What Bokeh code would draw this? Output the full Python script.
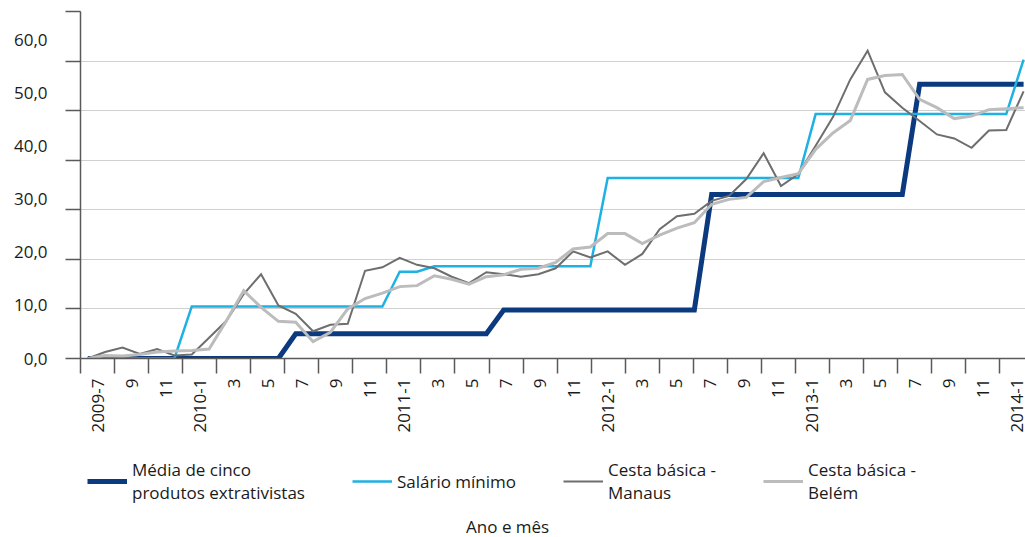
import math
from bokeh.plotting import figure
from bokeh.layouts import column
from bokeh.models import Range1d, LinearAxis, FixedTicker, Legend, LegendItem, Label
from bokeh.embed import file_html
from bokeh.resources import INLINE

# ---- data -------------------------------------------------------------
years_months = [(2009, m) for m in range(7, 13)] + \
    [(y, m) for y in range(2010, 2014) for m in range(1, 13)] + [(2014, 1)]
months = [f"{y}-{m}" for y, m in years_months]          # 55 months, 2009-7 .. 2014-1

media = [0.0] * 12 + [5.0] * 12 + [9.8] * 12 + [33.1] * 12 + [55.3] * 7
salario = [0.0] * 6 + [10.5] * 12 + [17.5] * 2 + [18.6] * 10 + [36.4] * 12 + [49.3] * 12 + [60.3]
manaus = [0.0, 1.3, 2.2, 0.9, 1.9, 0.6, 0.8, 4.2, 7.6, 13.0, 17.0, 10.7, 9.0, 5.5, 6.8, 7.0,
          17.7, 18.4, 20.3, 18.9, 18.2, 16.5, 15.2, 17.4, 17.0, 16.5, 17.0, 18.2, 21.6, 20.4,
          21.6, 18.9, 21.1, 26.1, 28.7, 29.2, 31.8, 32.8, 36.2, 41.4, 34.8, 37.2, 42.9, 48.7,
          56.3, 62.1, 53.7, 50.6, 47.9, 45.2, 44.4, 42.5, 46.0, 46.1, 53.9]
belem = [0.0, 0.6, 0.5, 0.8, 1.3, 1.5, 1.6, 1.9, 7.6, 13.7, 10.3, 7.5, 7.3, 3.4, 5.3, 10.0,
         12.1, 13.2, 14.5, 14.7, 16.7, 16.0, 15.0, 16.5, 16.9, 18.0, 18.2, 19.4, 22.1, 22.5,
         25.2, 25.2, 23.2, 24.9, 26.3, 27.4, 31.1, 32.1, 32.5, 35.7, 36.5, 37.3, 42.2, 45.5,
         48.0, 56.3, 57.1, 57.3, 52.3, 50.6, 48.4, 48.9, 50.2, 50.4, 50.6]

x_tick_labels = ["2009-7", "9", "11",
                 "2010-1", "3", "5", "7", "9", "11",
                 "2011-1", "3", "5", "7", "9", "11",
                 "2012-1", "3", "5", "7", "9", "11",
                 "2013-1", "3", "5", "7", "9", "11",
                 "2014-1"]
y_tick_values = [0, 10, 20, 30, 40, 50, 60]
y_tick_labels = ["0,0", "10,0", "20,0", "30,0", "40,0", "50,0", "60,0"]

series_names = ["Média de cinco\nprodutos extrativistas", "Salário mínimo",
                "Cesta básica -\nManaus", "Cesta básica -\nBelém"]
series_colors = ["#0b3a7e", "#1eb1e3", "#6e6e6e", "#bcbcbc"]
series_widths = [5, 2.5, 2, 3]
x_title = "Ano e mês"

# ---- styling ----------------------------------------------------------
FONT = "Open Sans"
TXT = "#1a1a1a"
AX = "#5a5a5a"
FS = "17px"

x = list(range(len(months)))
series = [media, salario, manaus, belem]

p = figure(frame_width=945, frame_height=347, output_backend="svg", toolbar_location=None,
           x_range=Range1d(-0.42, 54.11), y_range=Range1d(0, 70),
           x_axis_type=None,
           min_border_left=80, min_border_right=0, min_border_top=11, min_border_bottom=78)
p.outline_line_color = None
p.background_fill_color = "white"

p.extra_x_ranges = {"cat": Range1d(-0.5, 55.02)}
p.extra_y_ranges = {"lab": Range1d(0, 65.27)}

# grid
p.ygrid.ticker = FixedTicker(ticks=[10, 20, 30, 40, 50, 60, 70])
p.ygrid.grid_line_color = "#d0d0d0"
p.ygrid.grid_line_width = 1

# y axis with tick marks only
ya = p.yaxis[0]
ya.ticker = FixedTicker(ticks=[0, 10, 20, 30, 40, 50, 60, 70])
ya.major_label_overrides = {t: "" for t in [0, 10, 20, 30, 40, 50, 60, 70]}
ya.major_tick_out = 15
ya.major_tick_in = 0
ya.minor_tick_line_color = None
ya.major_label_standoff = 0
ya.axis_line_color = AX
ya.axis_line_width = 1.5
ya.major_tick_line_color = AX
ya.major_tick_line_width = 1.5

# y labels axis
ylab = LinearAxis(y_range_name="lab",
                  ticker=FixedTicker(ticks=y_tick_values),
                  major_label_overrides=dict(zip(y_tick_values, y_tick_labels)),
                  axis_line_color=None, major_tick_line_color=None, minor_tick_line_color=None,
                  major_tick_out=0, major_tick_in=0, major_label_standoff=18,
                  major_label_text_font=FONT, major_label_text_font_size=FS,
                  major_label_text_color=TXT)
p.add_layout(ylab, "left")

# x axis: labels centered over two-month spans, ticks at span boundaries
label_pos = [0.5 + 2 * k for k in range(len(x_tick_labels))]
tick_pos = [-0.5 + 2 * k for k in range(len(x_tick_labels))]
xax = LinearAxis(x_range_name="cat",
                 ticker=FixedTicker(ticks=label_pos, minor_ticks=tick_pos),
                 major_label_overrides=dict(zip(label_pos, x_tick_labels)),
                 major_label_orientation=math.pi / 2,
                 major_tick_out=15, major_tick_in=0, major_tick_line_color=None,
                 minor_tick_out=15, minor_tick_in=0, minor_tick_line_color=AX,
                 minor_tick_line_width=1.5,
                 axis_line_color=AX, axis_line_width=1.5,
                 major_label_standoff=5,
                 major_label_text_font=FONT, major_label_text_font_size=FS,
                 major_label_text_color=TXT)
p.add_layout(xax, "below")

# ---- series -----------------------------------------------------------
for ys, c, w in zip(series, series_colors, series_widths):
    p.line(x, ys, line_color=c, line_width=w, line_join="miter")

# ---- legend strip + x title ------------------------------------------
# same borders / frame width as the main plot; its y range lies far above the
# data so the key lines themselves stay outside the (clipped) frame
lf = figure(frame_width=945, frame_height=97, output_backend="svg", toolbar_location=None,
            x_range=Range1d(0, 1), y_range=Range1d(1000, 1001),
            x_axis_type=None, y_axis_type=None,
            min_border_left=80, min_border_right=0, min_border_top=0, min_border_bottom=0)
lf.outline_line_color = None
lf.grid.visible = False

key_renderers = [lf.line(x, ys, line_color=c, line_width=w)
                 for ys, c, w in zip(series, series_colors, series_widths)]

legend = Legend(items=[LegendItem(label=n, renderers=[r]) for n, r in
                       zip(series_names, key_renderers)],
                orientation="horizontal", location=(7, 29),
                glyph_width=40, label_standoff=5, spacing=47,
                padding=0, margin=0,
                border_line_color=None, background_fill_alpha=0,
                label_text_font=FONT, label_text_font_size=FS,
                label_text_color=TXT, label_text_line_height=1.25)
lf.add_layout(legend)

lf.add_layout(Label(x=0.452, y=1000.07, text=x_title, text_align="center",
                    text_baseline="middle", text_font=FONT, text_font_size=FS,
                    text_color=TXT))

layout = column(p, lf, spacing=0)
open("out.html", "w").write(file_html(layout, INLINE))
